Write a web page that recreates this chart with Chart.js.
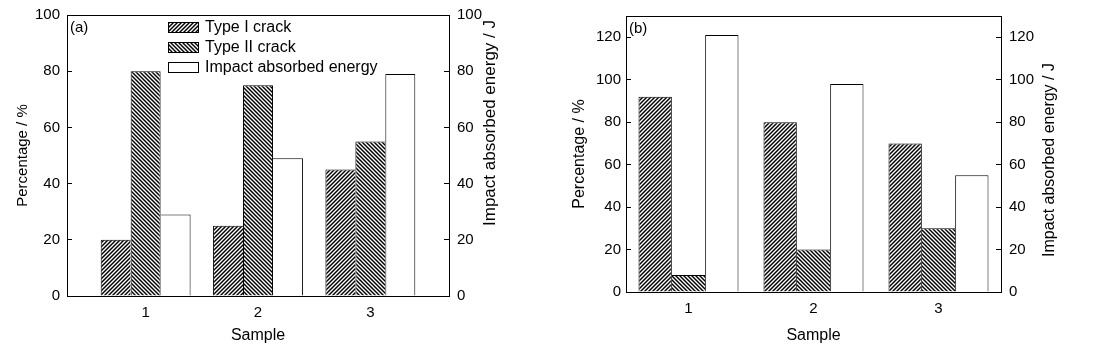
<!DOCTYPE html>
<html>
<head>
<meta charset="utf-8">
<script src="https://cdn.jsdelivr.net/npm/chart.js@4.4.1/dist/chart.umd.min.js"></script>
<style>
  html, body { margin: 0; padding: 0; background: #fff; }
  #wrap { position: relative; width: 1093px; height: 345px; }
  canvas { position: absolute; top: 0; }
  #chartA { left: 0; }
  #chartB { left: 560px; }
</style>
</head>
<body>
<div id="wrap">
  <canvas id="chartA" width="540" height="345"></canvas>
  <canvas id="chartB" width="533" height="345"></canvas>
</div>
<script>
// data
const samples = ['1', '2', '3'];
const sampleX = [1, 2, 3];
const seriesNames = ['Type I crack', 'Type II crack', 'Impact absorbed energy'];

const crack1A = [20, 25, 45];
const crack2A = [80, 75, 55];
const energyA = [29, 49, 79];

const crack1B = [92, 80, 70];
const crack2B = [8, 20, 30];
const energyB = [121, 98, 55];

const ticksA = [0, 20, 40, 60, 80, 100];
const ticksB = [0, 20, 40, 60, 80, 100, 120];

const FONT = "'Liberation Sans', Arial, sans-serif";

// diagonal hatch fill, dir 1 = '/', dir -1 = '\'
function hatch(dir) {
  const s = 4;
  const c = document.createElement('canvas');
  c.width = s; c.height = s;
  const g = c.getContext('2d');
  g.fillStyle = '#fff';
  g.fillRect(0, 0, s, s);
  g.strokeStyle = '#000';
  g.lineWidth = 1.45;
  g.beginPath();
  if (dir > 0) {
    g.moveTo(0, s); g.lineTo(s, 0);
    g.moveTo(-1, 1); g.lineTo(1, -1);
    g.moveTo(s - 1, s + 1); g.lineTo(s + 1, s - 1);
  } else {
    g.moveTo(0, 0); g.lineTo(s, s);
    g.moveTo(-1, s - 1); g.lineTo(1, s + 1);
    g.moveTo(s - 1, -1); g.lineTo(s + 1, 1);
  }
  g.stroke();
  return g.createPattern(c, 'repeat');
}
const fill1 = hatch(1);
const fill2 = hatch(-1);

const toPts = arr => arr.map((v, i) => ({ x: sampleX[i], y: v }));

// neighbouring bars share one outline: the taller one draws it
function edges(ctx) {
  const sets = ctx.chart.data.datasets;
  const val = k => {
    const v = sets[k].data[ctx.dataIndex];
    return v && typeof v === 'object' ? v.y : v;
  };
  const d = ctx.datasetIndex, me = val(d);
  return {
    top: 1, bottom: 0,
    left: d === 0 || me >= val(d - 1) ? 1 : 0,
    right: d === sets.length - 1 || me > val(d + 1) ? 1 : 0
  };
}

// box round the plot, panel tag, right-hand title (reads upward) and the legend
const frame = {
  id: 'frame',
  afterDraw(chart, args, opts) {
    const { ctx, chartArea: a } = chart;
    ctx.save();
    ctx.strokeStyle = '#000';
    ctx.lineWidth = 1;
    ctx.strokeRect(Math.round(a.left) + 0.5, Math.round(a.top) + 0.5,
      Math.round(a.right - a.left), Math.round(a.bottom - a.top));
    ctx.fillStyle = '#000';
    ctx.font = '15px ' + FONT;
    ctx.textBaseline = 'middle';
    ctx.fillText(opts.tag, a.left + 3, a.top + 13);

    ctx.save();
    ctx.font = opts.rightSize + 'px ' + FONT;
    ctx.textAlign = 'center';
    ctx.translate(opts.rightX, opts.rightY);
    ctx.rotate(-Math.PI / 2);
    ctx.fillText(opts.rightTitle, 0, 0);
    ctx.restore();

    if (opts.legend) {
      ctx.font = '16px ' + FONT;
      chart.data.datasets.forEach((ds, i) => {
        const bx = a.left + 101, by = a.top + 7 + i * 20;
        ctx.fillStyle = ds.backgroundColor;
        ctx.fillRect(bx, by, 30, 10);
        ctx.strokeRect(bx + 0.5, by + 0.5, 30, 10);
        ctx.fillStyle = '#000';
        ctx.fillText(ds.label, bx + 37, by + 6);
      });
    }
    ctx.restore();
  }
};

function yAxis(pos, max, ticks, title, titleSize, titlePad, width, pad) {
  return {
    position: pos,
    min: 0,
    max: max,
    afterBuildTicks: s => { s.ticks = ticks.map(v => ({ value: v })); },
    grid: { drawOnChartArea: false, drawTicks: true, tickLength: -5, color: '#000' },
    border: { display: false },
    ticks: { color: '#000', padding: pad, font: { family: FONT, size: 15 } },
    title: { display: !!title, text: title, color: '#000',
      font: { family: FONT, size: titleSize }, padding: { top: titlePad, bottom: 0 } },
    afterFit: s => { s.width = width; s.paddingTop = 0; s.paddingBottom = 0; }
  };
}

function xAxis(cfg, height) {
  return Object.assign({
    offset: false,
    grid: { display: false, drawTicks: false },
    border: { display: false },
    ticks: { color: '#000', padding: 8, font: { family: FONT, size: 15 } },
    title: { display: true, text: 'Sample', color: '#000',
      font: { family: FONT, size: 16 }, padding: { top: 3, bottom: 0 } },
    afterFit: s => { s.height = height; }
  }, cfg);
}

function datasets(c1, c2, en, useX) {
  const d = useX ? toPts : (a => a);
  return [
    { label: seriesNames[0], data: d(c1), backgroundColor: fill1, yAxisID: 'y' },
    { label: seriesNames[1], data: d(c2), backgroundColor: fill2, yAxisID: 'y' },
    { label: seriesNames[2], data: d(en), backgroundColor: '#fff', yAxisID: 'y2' }
  ];
}

const common = {
  responsive: false,
  animation: false,
  datasets: { bar: { barPercentage: 1, categoryPercentage: 0.8, borderColor: '#000', borderWidth: edges } },
  plugins: { legend: { display: false }, tooltip: { enabled: false } }
};

// panel (a): x runs a little wider than the categories, so a linear scale
new Chart(document.getElementById('chartA'), {
  type: 'bar',
  data: { datasets: datasets(crack1A, crack2A, energyA, true) },
  options: Object.assign({}, common, {
    layout: { padding: { top: 15, left: 0, right: 0, bottom: 0 } },
    scales: {
      x: xAxis({
        type: 'linear', min: 0.3, max: 3.7,
        afterBuildTicks: s => { s.ticks = sampleX.map(v => ({ value: v })); }
      }, 49),
      y: yAxis('left', 100, ticksA, 'Percentage / %', 15, 14, 67, 12),
      y2: yAxis('right', 100, ticksA, '', 17, 0, 91, 13)
    },
    plugins: Object.assign({}, common.plugins, {
      frame: { tag: '(a)', legend: true, rightTitle: 'Impact absorbed energy / J',
        rightSize: 17, rightX: 490, rightY: 123 }
    })
  }),
  plugins: [frame]
});

// panel (b)
new Chart(document.getElementById('chartB'), {
  type: 'bar',
  data: { labels: samples, datasets: datasets(crack1B, crack2B, energyB, false) },
  options: Object.assign({}, common, {
    layout: { padding: { top: 16, left: 0, right: 0, bottom: 0 } },
    scales: {
      x: xAxis({ type: 'category', offset: true }, 53),
      y: yAxis('left', 130, ticksB, 'Percentage / %', 16, 10, 66, 10),
      y2: yAxis('right', 130, ticksB, '', 16, 0, 92, 13)
    },
    plugins: Object.assign({}, common.plugins, {
      frame: { tag: '(b)', legend: false, rightTitle: 'Impact absorbed energy / J',
        rightSize: 16, rightX: 490, rightY: 160 }
    })
  }),
  plugins: [frame]
});
</script>
</body>
</html>
